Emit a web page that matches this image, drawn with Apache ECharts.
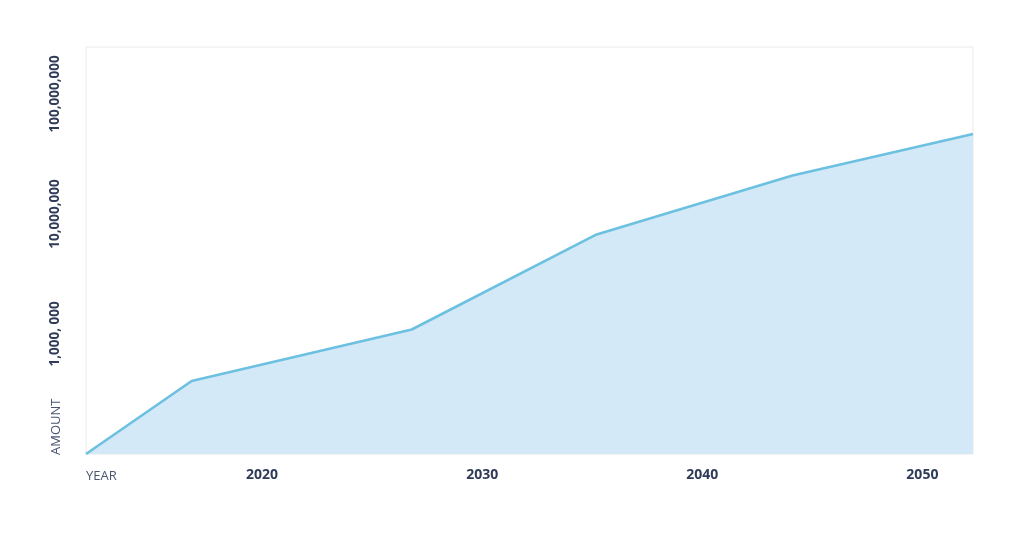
<!DOCTYPE html>
<html>
<head>
<meta charset="utf-8">
<script src="https://cdn.jsdelivr.net/npm/echarts@6/dist/echarts.min.js"></script>
<style>
html,body{margin:0;padding:0;background:#ffffff;}
#chart{width:1024px;height:542px;}
</style>
</head>
<body>
<div id="chart"></div>
<script>
const years = [2012, 2016.8, 2026.8, 2035.2, 2044.1, 2052.3];
const amounts = [100000, 406000, 1090000, 6750000, 20900000, 46400000];
const xTickValues = [2020, 2030, 2040, 2050];
const yTickValues = [1000000, 10000000, 100000000];
const yTickLabels = ['1,000, 000', '10,000,000', '100,000,000'];

const chart = echarts.init(document.getElementById('chart'));
const labelColor = '#2f3b58';
const option = {
  animation: false,
  grid: {
    left: 86, right: 51, top: 47, bottom: 88,
    show: true, borderColor: '#eaeaea', borderWidth: 1, backgroundColor: 'transparent'
  },
  xAxis: {
    type: 'value',
    min: 2012,
    max: 2052.3,
    axisLine: {show: false},
    axisTick: {show: false},
    splitLine: {show: false},
    axisLabel: {
      customValues: xTickValues,
      fontFamily: 'Open Sans',
      fontWeight: 'bold',
      fontSize: 14,
      color: labelColor,
      margin: 14,
      formatter: function (v) { return String(Math.round(v)); }
    }
  },
  yAxis: {
    type: 'log',
    logBase: 10,
    min: 100000,
    max: 246000000,
    axisLine: {show: false},
    axisTick: {show: false},
    splitLine: {show: false},
    axisLabel: {
      rotate: 90,
      margin: 24,
      fontFamily: 'Open Sans',
      fontWeight: 'bold',
      fontSize: 13.5,
      color: labelColor,
      formatter: function (v) {
        for (let i = 0; i < yTickValues.length; i++) {
          if (Math.abs(v - yTickValues[i]) / yTickValues[i] < 1e-6) return yTickLabels[i];
        }
        return '';
      }
    }
  },
  graphic: [
    {
      type: 'text', x: 86, y: 476,
      style: {text: 'YEAR', x: 0, y: 0, textAlign: 'left', textVerticalAlign: 'middle',
        font: '13px "Open Sans"', fill: '#4a5570'}
    },
    {
      type: 'text', x: 56, y: 455, rotation: Math.PI / 2,
      style: {text: 'AMOUNT', x: 0, y: 0, textAlign: 'left', textVerticalAlign: 'middle',
        font: '13px "Open Sans"', fill: '#4a5570'}
    }
  ],
  series: [{
    type: 'line',
    data: years.map((y, i) => [y, amounts[i]]),
    symbol: 'none',
    lineStyle: {color: '#6cc0e0', width: 2.6},
    areaStyle: {color: '#d3e9f8', opacity: 1, origin: 'start'}
  }]
};
chart.setOption(option);
</script>
</body>
</html>
